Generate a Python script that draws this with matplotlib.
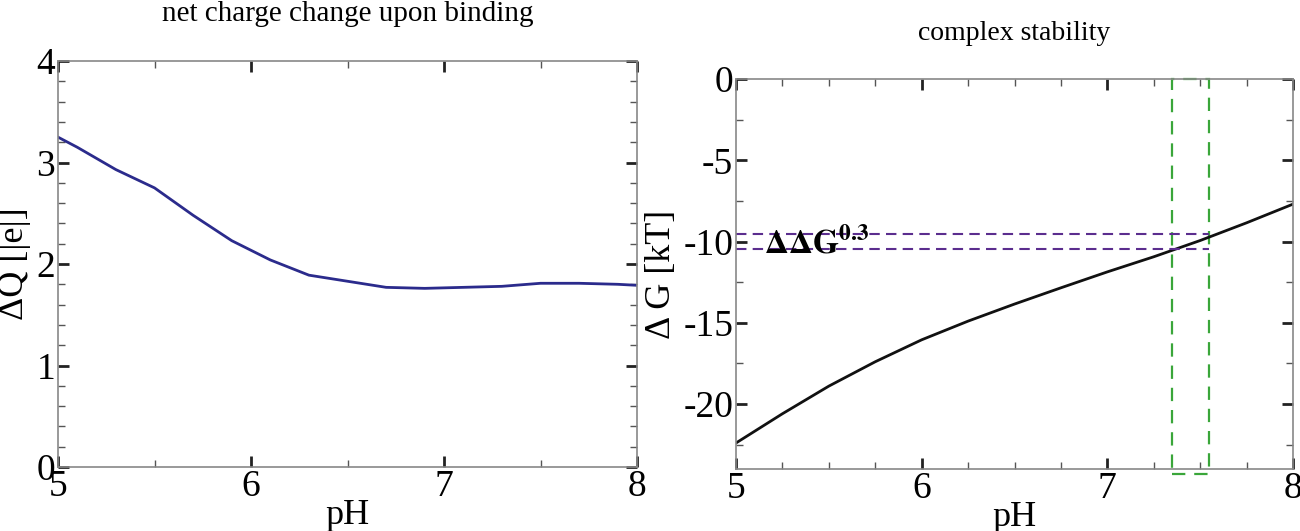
import matplotlib.pyplot as plt
from matplotlib.ticker import MultipleLocator
from matplotlib.patches import Rectangle

plt.rcParams['font.family'] = ['Liberation Serif', 'DejaVu Serif']
plt.rcParams['mathtext.fontset'] = 'stix'
plt.rcParams['axes.unicode_minus'] = False

# net charge change upon binding
ph_q = [5.0, 5.1, 5.3, 5.5, 5.7, 5.9, 6.1, 6.3, 6.5, 6.7, 6.9, 7.1, 7.3, 7.5, 7.7, 7.9, 8.0]
dq = [3.25, 3.15, 2.93, 2.75, 2.48, 2.23, 2.04, 1.89, 1.83, 1.77, 1.76, 1.77, 1.78, 1.81, 1.81, 1.80, 1.79]

# complex stability
ph_g = [5.0, 5.25, 5.5, 5.75, 6.0, 6.25, 6.5, 6.75, 7.0, 7.25, 7.5, 7.75, 8.0]
dg = [-22.4, -20.6, -18.9, -17.4, -16.05, -14.9, -13.85, -12.85, -11.87, -10.94, -9.94, -8.85, -7.7]

# pH window and the ddG band
ph_lo, ph_hi = 7.35, 7.55
g_lo, g_hi = -10.46, -9.54
ddg_label = r'$\mathbf{\Delta\Delta G^{0.3}}$'


def style_axes(ax):
    for s in ax.spines.values():
        s.set_color('#888888')
        s.set_linewidth(1.2)
    ax.tick_params(which='major', direction='in', length=8, width=2,
                   top=True, right=True, labelsize=27, pad=2, color='#222222')
    ax.tick_params(which='minor', direction='in', length=5, width=1,
                   top=True, right=True, color='#555555')


fig = plt.figure(figsize=(13, 5.31), dpi=100)

ax1 = fig.add_axes([58 / 1300, 1 - 467 / 531, (637 - 58) / 1300, (467 - 61) / 531])
ax1.plot(ph_q, dq, color='#2b2b8c', lw=2)
ax1.set_xlim(5, 8)
ax1.set_ylim(0, 4)
ax1.xaxis.set_major_locator(MultipleLocator(1))
ax1.xaxis.set_minor_locator(MultipleLocator(0.5))
ax1.yaxis.set_major_locator(MultipleLocator(1))
ax1.yaxis.set_minor_locator(MultipleLocator(0.2))
style_axes(ax1)
ax1.set_xlabel('pH', fontsize=26, labelpad=-4)
ax1.set_ylabel('ΔQ [|e|]', fontsize=26, labelpad=4)
ax1.set_title('net charge change upon binding', fontsize=21, pad=29)

ax2 = fig.add_axes([736 / 1300, 1 - 469 / 531, (1293 - 736) / 1300, (469 - 79) / 531])
ax2.plot(ph_g, dg, color='#111111', lw=2)
ax2.plot([5, ph_hi], [g_hi, g_hi], color='#5b2d8e', lw=1.5, ls=(0, (5, 3)))
ax2.plot([5, ph_hi], [g_lo, g_lo], color='#5b2d8e', lw=1.5, ls=(0, (5, 3)))
box = Rectangle((ph_lo, -24.3), ph_hi - ph_lo, 24.3, fill=False,
                edgecolor='#3aa63a', lw=1.6, ls=(0, (6, 4)), clip_on=False)
ax2.add_patch(box)
ax2.text(5.15, -10.15, ddg_label, fontsize=24, ha='left', va='center')
ax2.set_xlim(5, 8)
ax2.set_ylim(-24, 0)
ax2.xaxis.set_major_locator(MultipleLocator(1))
ax2.xaxis.set_minor_locator(MultipleLocator(0.25))
ax2.yaxis.set_major_locator(MultipleLocator(5))
ax2.yaxis.set_minor_locator(MultipleLocator(2.5))
style_axes(ax2)
ax2.set_xlabel('pH', fontsize=26, labelpad=-4)
ax2.set_ylabel('Δ G [kT]', fontsize=26, labelpad=4)
ax2.set_title('complex stability', fontsize=20, pad=28)

fig.savefig('out.png', dpi=100)
